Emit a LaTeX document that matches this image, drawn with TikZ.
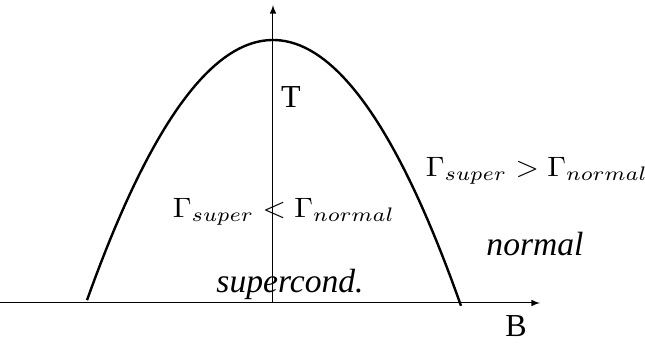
\documentclass[tikz,border=0pt]{standalone}
\usepackage{amsmath, amssymb}
\usepackage{fontspec}
\setmainfont{Liberation Serif}
\newcommand{\wide}[1]{\scalebox{1.5}[1.4]{#1}}

\begin{document}
\begin{tikzpicture}[x=0.5pt, y=-0.5pt]
    \useasboundingbox (0,0) rectangle (645,346);

    % Draw axes
    \coordinate (xs) at (0,303);
    \coordinate (xe) at (540,303);
    \coordinate (ys) at (273,303);
    \coordinate (ye) at (273,5);
    \draw[-latex, line width=0.5pt] (xs) -- (xe);
    \draw[-latex, line width=0.5pt] (ys) -- (ye);

    % Draw phase boundary
    \draw[line width=1.2pt, domain=87:461, samples=80]
        plot (\x, {40 + 263*((\x-273)/187)^2});

    % Labels
    \node (T) at (291,97) {\fontsize{16}{18}\selectfont T};
    \node (B) at (516,326) {\fontsize{16}{18}\selectfont B};
    \node (lt) at (284,212) {\wide{$\Gamma_{super} < \Gamma_{normal}$}};
    \node (gt) at (537,171) {\wide{$\Gamma_{super} > \Gamma_{normal}$}};
    \node (sc) at (290,284) {\fontsize{16.8}{18}\selectfont\itshape supercond.};
    \node (nm) at (535,244) {\fontsize{16.8}{18}\selectfont\itshape normal};
\end{tikzpicture}
\end{document}
